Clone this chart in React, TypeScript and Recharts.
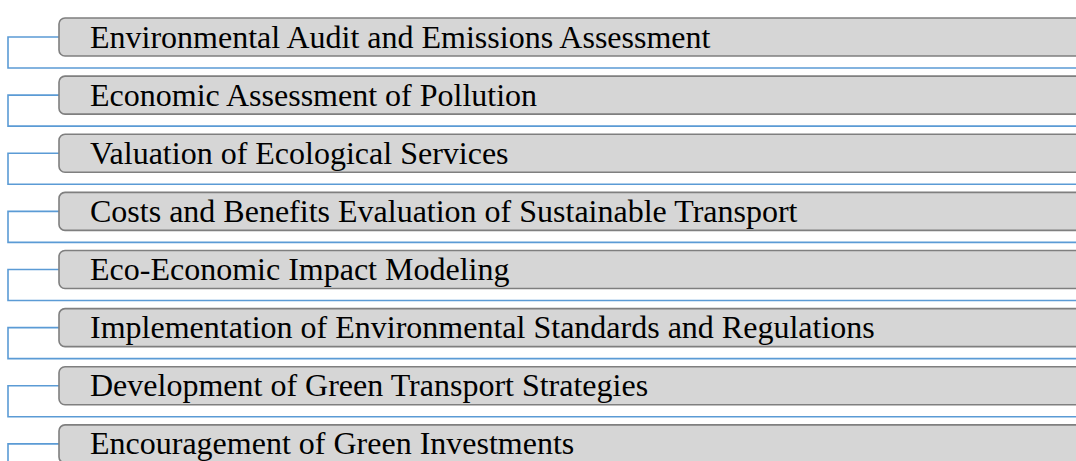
import React from "react";
import { BarChart, Bar, XAxis, YAxis } from "recharts";

const categories: string[] = [
  "Environmental Audit and Emissions Assessment",
  "Economic Assessment of Pollution",
  "Valuation of Ecological Services",
  "Costs and Benefits Evaluation of Sustainable Transport",
  "Eco-Economic Impact Modeling",
  "Implementation of Environmental Standards and Regulations",
  "Development of Green Transport Strategies",
  "Encouragement of Green Investments",
];

const boxValues: number[] = [1, 1, 1, 1, 1, 1, 1, 1];

const data = categories.map((name, i) => ({ name, value: boxValues[i] }));

const BLUE = "#5b9bd5";
const SERIF = "Liberation Serif, Tinos, Times New Roman, DejaVu Serif, serif";

const StepShape = (props: any) => {
  const { x, y, width, height, payload } = props;
  const cy = y + height / 2;
  const boxLeft = x + 59;
  const boxRight = x + width + 20;
  const bracketX = x + 8;
  const bottomY = cy + 31;
  return (
    <g>
      <path
        d={`M${x + width + 10},${bottomY} L${bracketX},${bottomY} L${bracketX},${cy} L${boxLeft},${cy}`}
        fill="none"
        stroke={BLUE}
        strokeWidth={1.6}
      />
      <rect
        x={boxLeft}
        y={y}
        width={boxRight - boxLeft}
        height={height}
        rx={6}
        ry={6}
        fill="#d6d6d6"
        stroke="#7f7f7f"
        strokeWidth={1.6}
      />
      <text
        x={boxLeft + 31}
        y={cy + 10.5}
        style={{ fontFamily: SERIF, fontSize: 32 }}
        fill="#000000"
      >
        {payload.name}
      </text>
    </g>
  );
};

export default function App() {
  return (
    <div style={{ position: "absolute", left: 0, top: 0, background: "#ffffff", fontFamily: SERIF }}>
      <BarChart
        width={1076}
        height={481}
        data={data}
        layout="vertical"
        margin={{ top: 8, right: 0, bottom: 8, left: 0 }}
      >
        <XAxis type="number" domain={[0, 1]} hide />
        <YAxis type="category" dataKey="name" hide />
        <Bar
          dataKey="value"
          barSize={38}
          isAnimationActive={false}
          shape={<StepShape />}
        />
      </BarChart>
    </div>
  );
}
